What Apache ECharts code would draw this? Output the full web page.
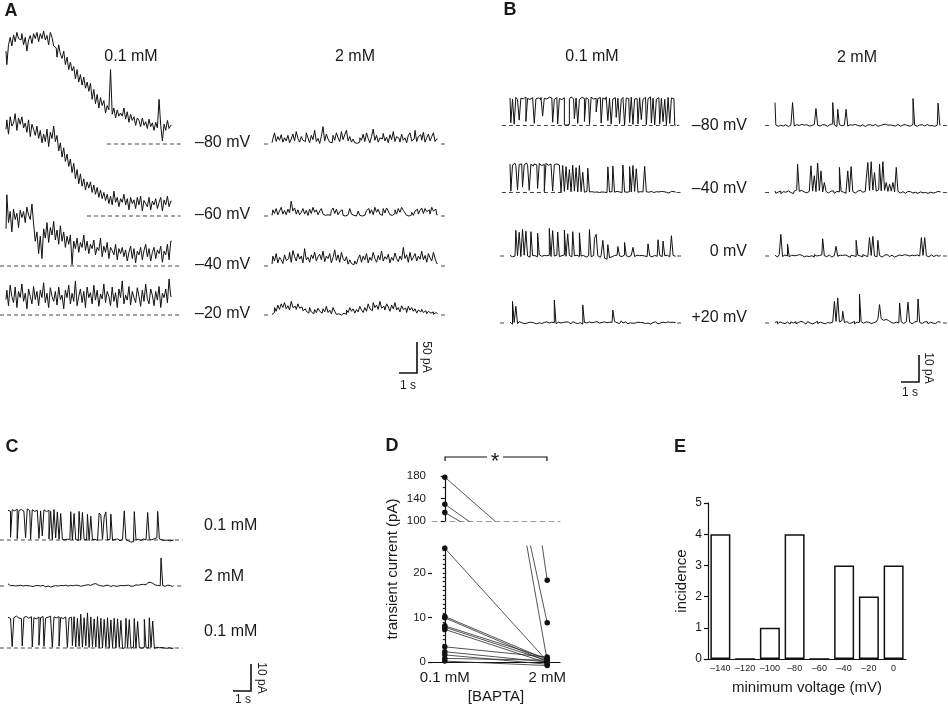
<!DOCTYPE html>
<html>
<head>
<meta charset="utf-8">
<script src="https://cdn.jsdelivr.net/npm/echarts@6/dist/echarts.min.js"></script>
<style>
  html, body { margin: 0; padding: 0; background: #fff; }
  #chart { width: 948px; height: 705px; }
</style>
</head>
<body>
<div id="chart"></div>
<script>
// ---------------- data (pA, one sample every 9.2/99 s) ----------------

// panel A, 0.1 mM BAPTA
const aLow80 = [150,128,160,172,158,176,165,180,170,168, 178,160,172,150,168,175,162,178,170,180,
  165,178,170,182,168,175,160,180,172,158, 155,140,160,145,138,150,128,140,120,132,
  118,125,105,120,100,112,95,108,90,100, 85,98,72,88,65,80,58,75,62,70,
  50,62,55,120,48,58,42,55,45,50, 45,58,40,52,35,48,38,44,30,42,
  38,28,42,30,36,25,40,28,34,22, 35,26,72,30,5,32,22,38,25,30];
const aLow60 = [140,155,132,160,145,150,165,138,158,148, 160,142,150,135,155,128,148,140,130,145,
  125,138,118,132,120,140,112,135,125,145, 120,130,105,118,95,110,88,100,80,92,
  70,85,60,75,52,68,48,60,42,55, 45,55,38,50,35,46,30,42,28,38,
  25,35,20,32,18,40,22,30,15,28, 22,35,18,28,10,30,20,26,12,30,
  18,32,8,25,20,15,30,10,24,18, 28,12,22,30,8,26,18,32,15,24];
const aLow40 = [60,115,70,88,55,92,75,85,62,90, 78,88,70,95,82,75,100,68,40,55,
  20,48,12,60,45,70,38,62,50,72, 42,58,35,65,40,55,30,48,35,50,
  2,40,28,45,22,38,30,50,25,40, 20,35,28,42,18,30,25,45,15,32,
  22,38,12,30,25,18,35,10,28,20, 30,15,26,8,22,32,12,28,5,24,
  18,30,10,25,35,15,28,8,22,30, 12,26,20,32,6,24,18,35,10,40];
const aLow20 = [25,40,15,48,30,20,45,12,38,28, 50,22,35,10,42,30,18,46,25,38,
  15,40,28,52,20,35,12,44,30,22, 38,16,45,25,32,10,40,28,48,18,
  35,22,55,15,30,42,20,38,12,45, 28,36,18,48,24,40,14,34,26,50,
  20,38,30,15,45,22,36,12,42,28, 55,18,32,24,46,16,38,28,20,44,
  30,14,40,22,50,26,18,42,32,15, 38,24,46,12,35,28,42,20,58,30];

// panel A, 2 mM BAPTA
const aHigh80 = [2,8,18,4,12,6,15,3,10,5, 14,2,8,16,5,20,9,3,12,6, 4,18,10,2,14,7,22,4,9,1,
  12,28,5,16,8,3,2,14,6,18, 10,4,20,7,15,22,5,12,3,8, 2,1,3,10,6,16,4,18,9,2,
  12,24,6,14,3,10,8,17,5,11, 2,15,7,20,4,12,9,3,16,6, 10,2,14,18,5,8,22,4,12,15,
  6,19,3,10,16,5,12,18,4,8];
const aHigh60 = [1,10,4,12,2,8,14,3,9,2, 11,5,24,8,13,3,10,2,6,12, 3,9,1,11,4,14,6,10,2,8,
  12,3,1,2,0,1,9,13,4,11, 2,7,10,1,0,2,1,12,3,1, 0,2,8,1,0,1,3,9,12,4,
  10,2,14,6,11,3,1,12,5,13, 8,2,1,4,10,3,12,6,14,9, 5,1,0,2,6,1,8,11,3,9,
  13,4,12,7,10,3,14,8,11,2];
const aHigh40 = [3,16,8,20,5,14,10,4,18,9, 12,22,6,25,15,8,20,11,16,5, 28,10,14,6,18,12,22,8,15,19,
  10,24,7,16,12,20,5,14,26,9, 18,6,22,12,8,15,3,10,4,2, 8,3,12,18,6,16,10,20,5,14,
  9,22,12,6,17,10,24,8,15,11, 19,5,14,9,21,12,7,16,10,30, 12,18,6,22,9,14,20,8,16,11,
  24,10,17,6,20,13,8,22,12,4];
const aHigh20 = [1,4,12,6,16,9,18,12,20,10, 15,8,22,12,14,9,18,11,13,7, 10,6,3,12,5,2,9,4,11,6,
  3,10,5,14,4,8,2,12,6,1, 2,0,1,3,1,8,4,12,6,10, 3,9,5,14,8,4,12,6,18,10,
  7,20,12,16,9,22,11,14,8,18, 13,6,16,10,20,8,12,5,15,9, 11,4,14,8,12,6,10,3,8,5,
  9,4,7,2,6,3,5,1,4,2];

// panel B, 0.1 mM BAPTA
const bLow80 = [10.2,1.0,9.8,0.5,10.4,9.6,2.0,10.1,9.9,10.5, 1.5,10.0,9.7,10.3,10.6,0.8,9.9,10.2,9.6,10.4,
  3.5,10.1,9.8,10.5,9.9,10.2,1.2,9.7,10.4,0.6, 10.0,9.6,10.3,0.3,0.1,0.4,9.8,10.6,9.9,2.5,
  10.2,0.8,9.7,10.4,10.0,1.5,10.3,9.6,0.4,10.5, 9.8,10.1,5.0,9.9,10.4,0.9,10.2,9.7,10.6,1.8,
  10.0,0.5,9.8,10.3,3.0,10.1,0.7,9.6,10.4,0.2, 10.2,9.9,1.1,10.5,0.4,9.8,10.0,0.6,10.3,2.2,
  9.7,10.4,0.3,9.9,10.6,0.9,10.1,0.2,9.8,10.3, 0.5,10.0,1.4,9.7,0.3,10.4,0.8,10.2,9.9,0.1];
const bLow40 = [10.5,0.5,10.2,10.8,9.9,1.0,10.4,10.6,2.0,10.3, 10.9,10.1,0.8,10.5,9.8,10.6,10.2,1.5,10.7,10.0,
  10.4,0.3,10.8,10.1,10.5,9.9,0.6,10.3,10.6,10.2, 9.8,0.2,10.0,0.4,9.6,1.0,8.5,0.3,10.1,0.5,
  9.2,0.2,10.0,0.3,7.5,0.1,0.4,9.0,0.2,0.3, 0.1,0.4,0.2,0.0,0.3,0.2,0.1,0.4,0.0,9.5,
  0.2,0.3,9.8,0.1,0.4,0.2,0.3,0.0,10.2,0.2, 0.1,0.3,9.6,0.2,10.0,0.4,8.8,0.1,0.3,0.2,
  0.0,9.7,0.3,0.1,0.4,0.2,0.0,0.3,0.1,0.2, 0.4,0.0,0.3,0.1,0.2,-0.2,0.4,0.1,0.3,0.2];
const bLow0 = [0.2,-0.3,0.4,0.0,9.5,0.1,8.8,-0.2,9.8,0.3, 9.2,0.0,-0.4,9.0,0.2,0.1,-0.3,8.5,0.4,-0.1,
  0.2,-0.3,0.1,0.3,10.2,-0.2,9.4,0.0,0.3,8.9, -0.2,0.1,0.4,9.6,-0.1,8.2,0.2,-0.3,9.0,0.1,
  0.3,-0.2,8.6,0.0,0.2,-0.4,0.3,0.1,9.8,-0.3, 0.2,6.5,8.0,0.1,-0.5,0.3,5.8,-0.8,-1.2,4.2,
  -0.6,-0.3,0.2,-0.1,0.3,3.5,0.0,-0.2,0.4,5.0, 0.1,-0.3,0.2,0.0,3.2,-0.2,0.3,0.1,-0.4,0.2,
  0.0,0.3,-0.2,4.5,0.1,-0.3,0.2,0.4,-0.1,6.0, 0.2,-0.2,5.5,0.1,0.3,-0.3,0.0,7.5,0.2,-0.1];
const bLow20p = [0.3,-0.4,8.0,0.2,6.2,-0.3,0.5,0.1,-0.2,0.4, -0.1,0.3,-0.4,0.2,0.0,0.4,-0.3,0.1,0.3,-0.2,
  0.2,-0.1,0.4,0.0,-0.3,0.3,0.1,8.5,-0.2,0.3, 0.0,-0.4,0.2,0.4,-0.1,0.3,-0.3,0.1,0.5,0.0,
  -0.2,0.3,0.1,-0.4,6.7,0.2,0.0,0.4,-0.3,0.1, 0.3,-0.1,0.5,0.0,-0.3,0.2,0.4,-0.2,0.1,0.3,
  -0.4,0.2,4.8,0.6,0.1,-0.2,0.3,0.8,0.0,0.4, -0.3,0.2,0.1,-0.1,0.4,0.0,0.3,-0.3,0.2,0.1,
  0.4,-0.2,0.0,0.3,-0.4,0.2,0.1,0.4,-0.3,0.2, 0.0,0.3,-0.2,0.1,0.4,-0.1,0.2,0.3,-0.2,0.1];

// panel B, 2 mM BAPTA
const bHigh80 = [8.5,0.2,-0.3,0.1,0.4,-0.2,0.3,0.0,-0.4,0.2, 0.1,8.5,-0.2,0.3,0.0,-0.3,0.4,0.1,-0.1,0.3,
  -0.2,0.2,0.0,0.4,-0.3,6.3,0.1,-0.2,0.3,0.0, 0.2,-0.3,0.1,0.4,0.6,8.5,0.2,-0.4,6.0,0.3,
  -0.1,0.2,0.0,6.0,-0.2,0.3,0.1,-0.3,0.4,0.0, 0.2,-0.2,0.3,0.1,-0.4,0.2,0.0,0.3,-0.1,0.2,
  0.4,-0.3,0.1,0.0,0.3,-0.2,0.5,0.1,-0.3,0.2, 0.0,0.3,-0.2,0.4,0.1,-0.3,0.2,0.0,0.3,-0.1,
  0.2,-0.2,0.4,10.0,0.1,-0.3,0.2,0.0,0.3,-0.2, 0.1,0.4,-0.1,0.2,0.0,-0.3,0.3,0.1,8.3,0.2];
const bHigh40 = [0.6,-0.3,0.2,0.5,-0.4,0.3,0.1,-0.2,0.6,0.0, 0.3,-0.4,0.5,0.9,10.5,0.4,0.8,0.2,0.6,-0.1,
  0.4,0.2,9.9,0.5,6.2,0.3,10.9,0.7,8.0,0.2, 3.7,0.4,-0.2,0.5,0.1,0.6,-0.3,0.4,0.2,9.3,
  0.5,0.1,-0.3,0.6,8.0,0.2,9.6,0.4,-0.2,0.5, 0.3,0.8,0.1,0.6,0.4,4.9,11.1,0.7,11.4,0.9,
  7.4,0.5,1.0,10.5,0.6,11.4,0.8,3.7,0.4,3.1, 0.5,3.7,0.2,9.3,0.4,-0.2,0.3,0.1,-0.3,0.4,
  0.0,0.3,-0.2,0.5,0.1,-0.3,0.4,0.2,-0.1,0.3, 0.0,-0.3,0.4,0.1,-0.2,0.3,0.0,0.4,-0.1,0.2];
const bHigh0 = [0.3,-0.4,0.2,0.5,8.0,-0.2,0.4,0.0,4.4,-0.3, 0.3,0.1,-0.4,0.2,0.5,-0.1,0.3,-0.3,0.4,0.0,
  -0.2,0.3,0.1,-0.4,0.5,0.0,0.2,-0.3,0.4,6.4, 0.1,-0.2,0.3,0.0,-0.4,0.2,0.5,3.6,-0.1,0.3,
  0.2,-0.3,0.4,0.0,0.2,-0.5,0.3,0.1,-0.2,5.8, 0.3,0.0,-0.3,0.5,0.1,-0.2,0.4,6.8,0.2,7.3,
  0.0,-0.3,5.8,0.2,-0.4,0.3,0.0,0.5,-0.2,0.1, 0.3,-0.4,0.2,0.0,0.4,-0.3,0.1,0.5,-0.2,0.3,
  0.0,-0.4,0.3,0.1,-0.2,0.4,0.0,-0.3,6.8,0.2, 6.8,0.1,-0.3,0.4,0.0,-0.2,0.3,0.5,-0.1,0.2];
const bHigh20p = [0.2,0.5,-0.3,0.4,0.0,0.6,-0.2,0.3,0.1,-0.4, 0.4,0.0,0.5,-0.3,0.2,0.6,-0.1,0.3,-0.4,0.2,
  0.5,0.0,-0.3,0.4,0.1,0.6,-0.2,0.3,0.0,0.4, -0.3,0.2,0.5,0.0,0.3,0.8,8.0,0.6,9.3,0.4,
  0.9,4.3,0.2,0.5,-0.2,0.4,0.1,0.6,-0.3,0.3, 0.2,10.7,0.5,-0.1,0.4,0.0,0.3,-0.2,0.5,0.1,
  0.4,0.7,1.4,6.8,1.6,1.0,1.3,0.6,0.9,0.2, 0.5,-0.1,0.3,0.6,0.0,7.4,0.4,-0.2,0.5,0.1,
  7.7,0.3,-0.3,0.4,0.0,0.5,8.9,0.2,-0.2,0.4, 0.1,0.5,-0.3,0.3,0.0,0.4,-0.2,0.5,0.1,0.3];

// panel C: 0.1 mM -> 2 mM -> 0.1 mM
const cFirst = [11.0,10.6,1.0,11.2,10.8,11.4,0.5,10.9,11.3,10.7, 11.1,0.8,11.5,10.9,0.3,11.2,10.6,11.0,11.4,0.6,
  10.8,1.5,11.2,10.5,11.0,0.4,10.6,0.2,11.3,0.8, 10.4,0.3,9.8,0.2,0.1,0.3,-0.2,0.2,10.5,0.0,
  9.8,0.2,-0.1,10.6,0.1,10.2,0.3,0.0,9.5,-0.2, 8.8,0.1,0.3,-0.2,0.1,10.0,9.2,0.2,8.5,10.4,
  0.0,0.3,9.6,-0.1,0.2,0.4,0.0,-0.3,0.3,0.1, 10.8,0.2,-0.3,-0.8,-1.2,-0.6,10.5,0.1,0.3,-0.2,
  0.2,0.4,0.0,-0.2,10.2,0.3,0.1,0.5,0.2,0.8, 10.6,0.4,0.1,-0.2,0.2,0.0,-0.3,0.1,-0.2,0.0];
const cMid = [0.8,0.1,-0.2,0.2,0.0,-0.3,0.1,0.3,-0.1,0.0, 0.2,-0.3,0.1,0.0,0.3,-0.2,0.1,-0.4,0.2,0.0,
  -0.1,0.2,-0.3,0.1,0.0,-0.4,0.2,-0.1,0.1,-0.3, 0.0,0.2,-0.2,0.1,0.3,-0.1,0.0,0.2,-0.2,0.1,
  0.3,0.0,0.2,-0.1,0.4,0.1,0.3,0.0,0.5,0.2, 0.4,0.7,0.9,0.6,0.3,0.1,0.4,-0.1,0.2,0.0,
  0.3,-0.2,0.1,0.2,-0.1,0.3,0.0,0.2,-0.2,0.1, 0.2,0.0,0.3,-0.1,0.2,0.0,0.4,0.1,0.3,0.5,
  0.2,0.6,0.4,0.9,1.2,1.4,1.0,0.7,0.4,0.2, 0.3,0.1,10.4,0.2,-0.1,0.3,0.0,0.2,-0.2,0.1];
const cLast = [11.4,11.0,11.6,0.5,11.2,11.8,11.1,11.5,10.9,0.8, 11.3,11.7,11.0,11.4,11.6,0.4,11.2,10.8,11.5,1.0,
  11.3,11.6,0.6,11.1,11.4,11.8,11.0,0.3,11.5,11.2, 11.6,0.7,11.3,10.9,11.5,11.8,0.2,11.1,11.4,0.9,
  11.6,0.4,11.0,0.6,12.5,0.3,11.2,0.8,13.0,0.2, 11.5,0.5,10.8,0.3,11.6,0.1,11.0,0.0,10.6,0.3,
  11.2,-0.1,10.4,0.2,11.0,0.0,10.8,0.3,10.2,-0.2, 0.1,11.0,0.2,10.5,-0.1,0.3,10.9,0.0,9.8,0.2,
  -0.1,0.3,10.6,0.1,0.0,11.2,0.2,10.0,-0.1,0.3, 0.1,-0.2,0.2,0.0,0.3,-0.1,0.1,0.2,-0.2,0.0];

// panel D: paired transient currents (pA), 0.1 mM vs 2 mM BAPTA
const dGroups = ['0.1 mM', '2 mM'];
const dLow = [178, 130, 115, 25.5, 10.2, 9.9, 8.1, 7.8, 7.3, 3.4, 2.3, 1.6, 0.8, 0.2];
const dHigh = [18.3, 0.3, 8.8, 0.2, 0.5, 0.1, 0.8, 0.3, -0.2, 1.1, 0.0, -0.5, 0.4, -0.8];

// panel E: histogram of minimum voltage
const eBins = ['–140', '–120', '–100', '–80', '–60', '–40', '–20', '0'];
const eCounts = [4, 0, 1, 4, 0, 3, 2, 3];

// labels
const voltsA = ['–80 mV', '–60 mV', '–40 mV', '–20 mV'];
const voltsB = ['–80 mV', '–40 mV', '0 mV', '+20 mV'];
const concC = ['0.1 mM', '2 mM', '0.1 mM'];

// ---------------- layout ----------------
const FONT = '"Liberation Sans", Arial, Helvetica, sans-serif';
const INK = '#1a1a1a';
const SEC_PX = 18;      // px per second
const A_PPA = 0.62;     // px per pA in panel A (50 pA bar)
const BC_PPA = 2.7;     // px per pA in panels B, C (10 pA bar)
const DT = 9.2 / 99;
const T_MIN = -0.7, T_MAX = 9.9;

const baseA = [144, 216, 266, 315];
const baseB = [125.5, 192.5, 256, 323];
const baseC = [540, 586, 648];
const tickEnds = (a, b) => [[a, a + 0.22], [b, b + 0.22]];

const sweeps = [
  { y: aLow80, x0: 6, base: baseA[0], ppa: A_PPA, dash: [[5.6, 9.7]] },
  { y: aLow60, x0: 6, base: baseA[1], ppa: A_PPA, dash: [[4.5, 9.7]] },
  { y: aLow40, x0: 6, base: baseA[2], ppa: A_PPA, dash: [[-0.33, 9.7]] },
  { y: aLow20, x0: 6, base: baseA[3], ppa: A_PPA, dash: [[-0.33, 9.7]] },
  { y: aHigh80, x0: 272, base: baseA[0], ppa: A_PPA, dash: tickEnds(-0.44, 9.39) },
  { y: aHigh60, x0: 272, base: baseA[1], ppa: A_PPA, dash: tickEnds(-0.44, 9.39) },
  { y: aHigh40, x0: 272, base: baseA[2], ppa: A_PPA, dash: tickEnds(-0.44, 9.39) },
  { y: aHigh20, x0: 272, base: baseA[3], ppa: A_PPA, dash: tickEnds(-0.44, 9.39) },
  { y: bLow80, x0: 510, base: baseB[0], ppa: BC_PPA, dash: [[-0.45, 9.4]] },
  { y: bLow40, x0: 510, base: baseB[1], ppa: BC_PPA, dash: [[-0.45, 3.0], [9.25, 9.47]] },
  { y: bLow0, x0: 510, base: baseB[2], ppa: BC_PPA, dash: tickEnds(-0.55, 9.28) },
  { y: bLow20p, x0: 510, base: baseB[3], ppa: BC_PPA, dash: tickEnds(-0.55, 9.28) },
  { y: bHigh80, x0: 775, base: baseB[0], ppa: BC_PPA, dash: tickEnds(-0.55, 9.33) },
  { y: bHigh40, x0: 775, base: baseB[1], ppa: BC_PPA, dash: tickEnds(-0.55, 9.33) },
  { y: bHigh0, x0: 775, base: baseB[2], ppa: BC_PPA, dash: tickEnds(-0.55, 9.33) },
  { y: bHigh20p, x0: 775, base: baseB[3], ppa: BC_PPA, dash: tickEnds(-0.55, 9.33) },
  { y: cFirst, x0: 8, base: baseC[0], ppa: BC_PPA, dash: [[-0.45, 9.7]] },
  { y: cMid, x0: 8, base: baseC[1], ppa: BC_PPA, dash: tickEnds(-0.45, 9.4) },
  { y: cLast, x0: 8, base: baseC[2], ppa: BC_PPA, dash: [[-0.45, 9.7]] }
];

const grid = [], xAxis = [], yAxis = [], series = [];

sweeps.forEach(function (s) {
  const g = grid.length;
  const yLo = -20 / s.ppa, yHi = 130 / s.ppa;
  grid.push({ left: s.x0 + T_MIN * SEC_PX, width: (T_MAX - T_MIN) * SEC_PX,
    top: s.base - yHi * s.ppa, height: (yHi - yLo) * s.ppa, outerBoundsMode: 'none' });
  xAxis.push({ gridIndex: g, type: 'value', min: T_MIN, max: T_MAX, show: false });
  yAxis.push({ gridIndex: g, type: 'value', min: yLo, max: yHi, show: false });
  const ax = yAxis.length - 1;
  s.dash.forEach(function (seg) {
    series.push({ type: 'line', xAxisIndex: g, yAxisIndex: ax, data: [[seg[0], 0], [seg[1], 0]],
      symbol: 'none', silent: true, clip: false, z: 1,
      lineStyle: { color: '#444', width: 1, type: [4, 3] } });
  });
  // step lines give the vertical strokes of a sampled current record
  series.push({ type: 'line', xAxisIndex: g, yAxisIndex: ax,
    data: s.y.map(function (v, i) { return [i * DT, v]; }),
    step: 'middle',
    symbol: 'none', silent: true, clip: false, z: 2,
    lineStyle: { color: '#111', width: 1 } });
});

// ---- panel D (broken y axis) ----
const axisInk = { color: '#111', width: 1.2 };
const dX = { type: 'value', min: -0.125, max: 1.125, interval: 0.125 };

const gUp = grid.length;
grid.push({ left: 432, top: 476, width: 128, height: 45, outerBoundsMode: 'none' });
xAxis.push(Object.assign({ gridIndex: gUp, axisLine: { lineStyle: { color: '#9a9a9a', width: 1, type: [5, 4] } },
  axisTick: { show: false }, axisLabel: { show: false }, splitLine: { show: false } }, dX));
const xUp = xAxis.length - 1;
yAxis.push({ gridIndex: gUp, type: 'value', min: 100, max: 180, interval: 40, position: 'left',
  axisLine: { show: true, lineStyle: axisInk }, axisTick: { show: true, length: 4, lineStyle: axisInk },
  minorTick: { show: true, splitNumber: 2, length: 2, lineStyle: axisInk },
  axisLabel: { fontSize: 11.5, color: INK, fontFamily: FONT, margin: 6 }, splitLine: { show: false } });
const yUp = yAxis.length - 1;

const gDn = grid.length;
grid.push({ left: 432, top: 546, width: 128, height: 116, outerBoundsMode: 'none' });
xAxis.push(Object.assign({ gridIndex: gDn, axisLine: { lineStyle: axisInk }, axisTick: { show: false },
  axisLabel: { fontSize: 15, color: INK, fontFamily: FONT, margin: 8,
    formatter: function (v) { return Math.abs(v) < 1e-6 ? dGroups[0] : (Math.abs(v - 1) < 1e-6 ? dGroups[1] : ''); } },
  splitLine: { show: false }, name: '[BAPTA]', nameLocation: 'middle', nameGap: 27,
  nameTextStyle: { fontSize: 15, color: INK, fontFamily: FONT } }, dX));
const xDn = xAxis.length - 1;
yAxis.push({ gridIndex: gDn, type: 'value', min: 0, max: 26, interval: 1, position: 'left',
  axisLine: { show: true, lineStyle: axisInk }, axisTick: { show: true, length: 2, lineStyle: axisInk },
  axisLabel: { fontSize: 11.5, color: INK, fontFamily: FONT, margin: 6,
    formatter: function (v) { return v % 10 === 0 ? String(v) : ''; } },
  splitLine: { show: false } });
const yDn = yAxis.length - 1;
yAxis.push({ gridIndex: gDn, type: 'value', min: 0, max: 26, interval: 10, position: 'left',
  axisLine: { show: false }, axisLabel: { show: false }, splitLine: { show: false },
  axisTick: { show: true, length: 4, lineStyle: axisInk, customValues: [0, 10, 20] } });

dLow.forEach(function (v, i) {
  const pair = [[0, v], [1, dHigh[i]]];
  const style = { symbol: 'circle', symbolSize: 5.5, showSymbol: true, silent: true,
    itemStyle: { color: '#111' }, lineStyle: { color: '#2a2a2a', width: 0.8 }, z: 3 };
  if (v > 26) {
    series.push(Object.assign({ type: 'line', xAxisIndex: xUp, yAxisIndex: yUp, data: pair, clip: true }, style));
  }
  series.push(Object.assign({ type: 'line', xAxisIndex: xDn, yAxisIndex: yDn, data: pair, clip: v > 26 }, style));
});

// ---- panel E ----
const gE = grid.length;
grid.push({ left: 708, top: 503, width: 198, height: 156, outerBoundsMode: 'none' });
xAxis.push({ gridIndex: gE, type: 'category', data: eBins, boundaryGap: true,
  axisLine: { lineStyle: axisInk }, axisTick: { alignWithLabel: true, length: 3, lineStyle: axisInk },
  axisLabel: { fontSize: 9, color: INK, fontFamily: FONT, margin: 5, interval: 0 },
  name: 'minimum voltage (mV)', nameLocation: 'middle', nameGap: 21,
  nameTextStyle: { fontSize: 15, color: INK, fontFamily: FONT } });
yAxis.push({ gridIndex: gE, type: 'value', min: 0, max: 5, interval: 1,
  axisLine: { show: true, lineStyle: axisInk }, axisTick: { show: true, length: 4, lineStyle: axisInk },
  axisLabel: { fontSize: 12, color: INK, fontFamily: FONT, margin: 6 }, splitLine: { show: false },
  name: 'incidence', nameLocation: 'middle', nameGap: 19,
  nameTextStyle: { fontSize: 15, color: INK, fontFamily: FONT } });
series.push({ type: 'bar', xAxisIndex: xAxis.length - 1, yAxisIndex: yAxis.length - 1, data: eCounts,
  barWidth: 20, silent: true, itemStyle: { color: '#fff', borderColor: '#111', borderWidth: 1.5 } });

// ---------------- text & scale bars ----------------
function label(text, x, y, size, align, extra) {
  return Object.assign({ type: 'text', x: x, y: y, silent: true,
    style: { text: text, fill: INK, fontSize: size, fontFamily: FONT, align: align || 'left', verticalAlign: 'middle' } }, extra || {});
}
function bold(text, x, y) {
  const t = label(text, x, y, 18, 'center');
  t.style.fontWeight = 'bold';
  return t;
}
function scaleBar(xr, yb, ppa, pA) {
  return { type: 'polyline', silent: true,
    shape: { points: [[xr, yb - pA * ppa], [xr, yb], [xr - SEC_PX, yb]] },
    style: { stroke: '#111', lineWidth: 1.6, fill: null } };
}
const rot = { rotation: -Math.PI / 2 };

const graphic = [
  bold('A', 11, 11), bold('B', 510, 10), bold('C', 12, 447), bold('D', 392, 446), bold('E', 680, 447),
  label('0.1 mM', 131, 57, 16, 'center'), label('2 mM', 355, 57, 16, 'center'),
  label('0.1 mM', 592, 57, 16, 'center'), label('2 mM', 857, 58, 16, 'center'),
  scaleBar(417, 373, A_PPA, 50), label('50 pA', 426, 357, 12, 'center', rot), label('1 s', 408, 386, 12, 'center'),
  scaleBar(919, 382, BC_PPA, 10), label('10 pA', 928, 368, 12, 'center', rot), label('1 s', 910, 393, 12, 'center'),
  scaleBar(251, 691, BC_PPA, 10), label('10 pA', 261, 678, 12, 'center', rot), label('1 s', 243, 700, 12, 'center'),
  label('transient current (pA)', 393, 569, 15, 'center', { rotation: Math.PI / 2 }),
  { type: 'polyline', silent: true, shape: { points: [[445, 461], [445, 457], [487, 457]] }, style: { stroke: '#111', lineWidth: 1.2, fill: null } },
  { type: 'polyline', silent: true, shape: { points: [[503, 457], [547, 457], [547, 461]] }, style: { stroke: '#111', lineWidth: 1.2, fill: null } },
  label('*', 495, 462, 22, 'center')
];
voltsA.forEach(function (t, i) { graphic.push(label(t, 195, baseA[i] - 1.5, 16)); });
voltsB.forEach(function (t, i) { graphic.push(label(t, 747, [126, 189, 252, 318][i], 16, 'right')); });
concC.forEach(function (t, i) { graphic.push(label(t, 204, [526, 577, 632][i], 16)); });

const chart = echarts.init(document.getElementById('chart'));
chart.setOption({
  backgroundColor: '#fff',
  animation: false,
  grid: grid,
  xAxis: xAxis,
  yAxis: yAxis,
  series: series,
  graphic: graphic
});
</script>
</body>
</html>
